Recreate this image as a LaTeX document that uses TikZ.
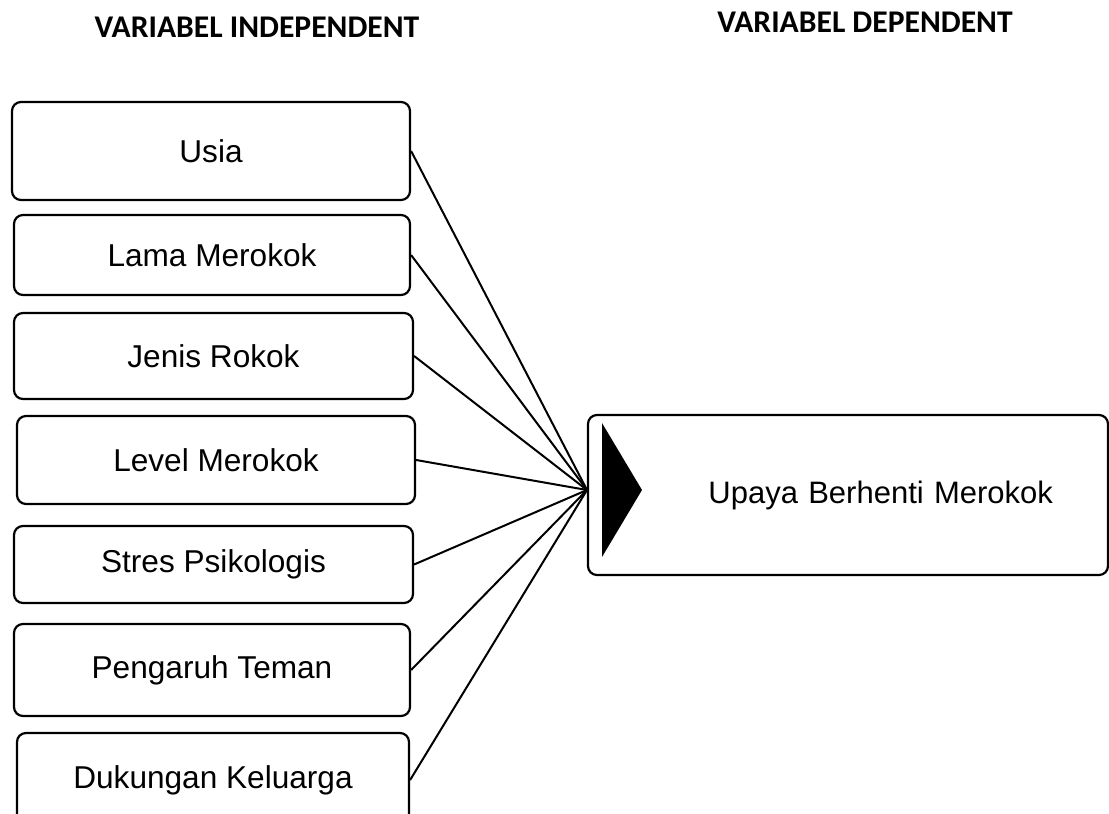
\documentclass[tikz,border=0pt]{standalone}
\usepackage{fontspec}
\setmainfont{Liberation Sans}
\newfontfamily\headfont{Carlito}
\usetikzlibrary{
arrows.meta,
positioning
}

\begin{document}
\begin{tikzpicture}[x=0.5pt, y=-0.5pt,
    varbox/.style={draw, line width=1.1pt, rounded corners=4.5pt, inner sep=0pt,
      font=\fontsize{15.8}{19}\selectfont},
    head/.style={font=\headfont\bfseries\fontsize{15.8}{19}\selectfont},
    link/.style={line width=1pt}]
    \useasboundingbox (0,0) rectangle (1109,814);
    \clip (0,0) rectangle (1109,814);
    % headings
    \node [head] (hindep) at (257,27) {VARIABEL INDEPENDENT};
    \node [head] (hdep) at (865,22) {VARIABEL DEPENDENT};
    % independent variables
    \node [varbox, minimum width=199pt, minimum height=49pt] (usia) at (211,151) {Usia};
    \node [varbox, minimum width=198pt, minimum height=40pt] (lama) at (212,255) {Lama Merokok};
    \node [varbox, minimum width=199.5pt, minimum height=43pt] (jenis) at (213.5,356) {Jenis Rokok};
    \node [varbox, minimum width=199pt, minimum height=44pt] (level) at (216,460) {Level Merokok};
    \node [varbox, minimum width=199.5pt, minimum height=38.5pt] (stres) at (213.5,564.5) {Stres Psikologis};
    \node [varbox, minimum width=198pt, minimum height=46pt] (teman) at (212,670) {Pengaruh Teman};
    \node [varbox, minimum width=196pt, minimum height=47pt] (keluarga) at (213,780) {Dukungan Keluarga};
    % dependent variable
    \node [varbox, minimum width=260pt, minimum height=80pt, text width=205pt, align=right,
      font=\fontsize{15.5}{19}\selectfont] (upaya) at (848,495) {Upaya Berhenti Merokok};
    \fill (602,423) -- (642,490) -- (602,557) -- cycle;
    \coordinate (hub) at (587,490);
    \foreach \v in {usia,lama,jenis,level,stres,teman,keluarga}
      \draw [link] (\v.east) -- (hub);
  \end{tikzpicture}
\end{document}
